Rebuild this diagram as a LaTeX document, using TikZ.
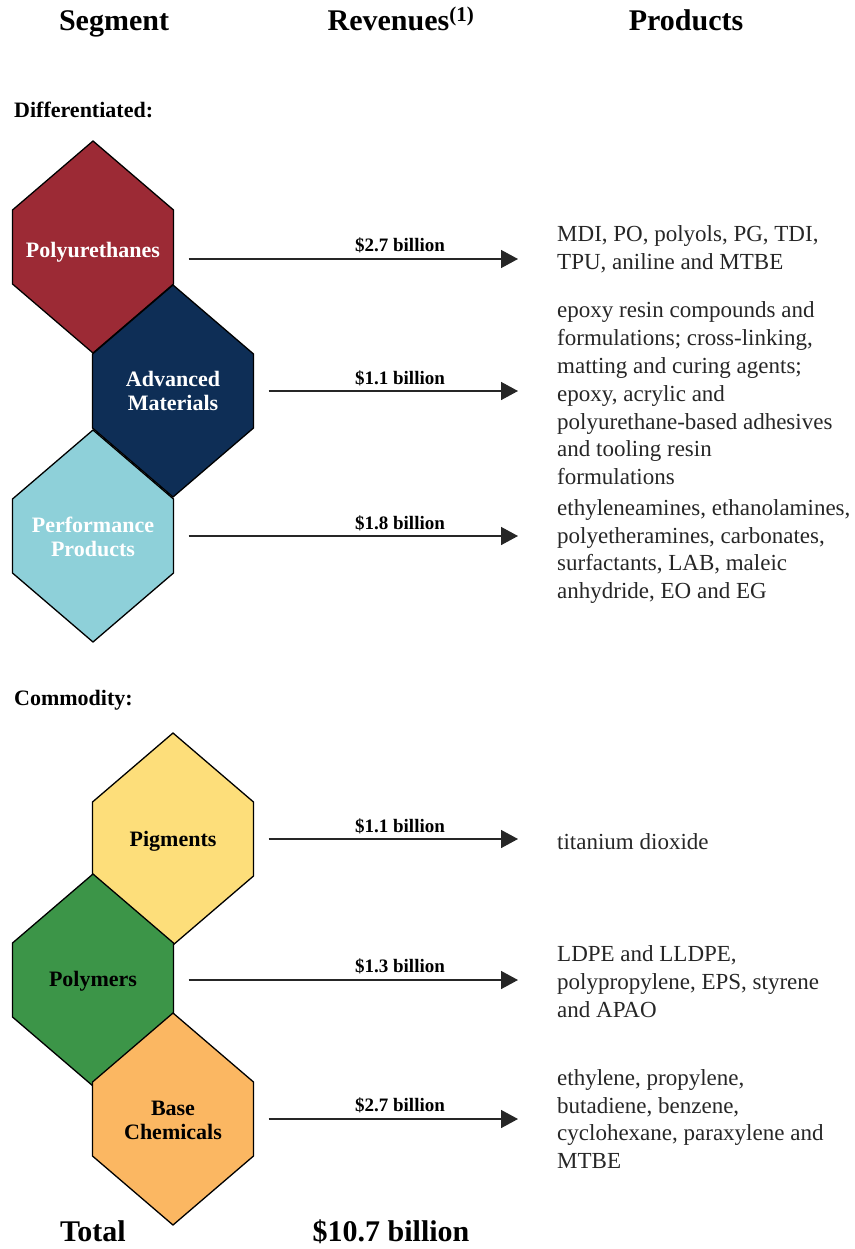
\documentclass[tikz,border=0pt]{standalone}
\usepackage{fontspec}
\setmainfont{Liberation Serif}
\usetikzlibrary{arrows.meta,positioning,calc}

\definecolor{puRed}{HTML}{9C2A35}
\definecolor{amNavy}{HTML}{0E2E56}
\definecolor{ppCyan}{HTML}{8ED0D9}
\definecolor{pgYellow}{HTML}{FDDE7A}
\definecolor{plGreen}{HTML}{3C9548}
\definecolor{bcOrange}{HTML}{FBB762}

% hexagon of a segment: name, centre, fill
\newcommand{\hexseg}[3]{%
  \draw[hexline, fill=#3, shift={#2}] (0,-106) -- (80.5,-37) -- (80.5,37) -- (0,106) -- (-80.5,37) -- (-80.5,-37) -- cycle;
  \coordinate (#1) at #2;
  \coordinate (#1-e) at ($#2+(80.5,0)$);}

\begin{document}
\begin{tikzpicture}[x=1pt, y=-1pt,
    hexline/.style={draw=black, line width=1.3pt},
    head/.style={font=\bfseries\fontsize{30}{34}\selectfont, anchor=base, inner sep=0pt},
    group/.style={font=\bfseries\fontsize{22}{24}\selectfont, anchor=west, inner sep=0pt},
    seg/.style={font=\bfseries\fontsize{22}{24}\selectfont, align=center},
    rev/.style={font=\bfseries\fontsize{19}{22}\selectfont},
    prod/.style={font=\fontsize{23}{27.8}\selectfont, text=black!85, align=left, anchor=west, inner sep=0pt},
    arr/.style={draw=black!85, line width=1.5pt, -{Triangle[length=17pt,width=18pt]}, shorten <=15pt, shorten >=39pt}]
  \useasboundingbox (0,0) rectangle (854,1249);

  % column heads
  \node[head] (h-seg) at (114,31) {Segment};
  \node[head] (h-rev) at (401,31) {Revenues\textsuperscript{(1)}};
  \node[head] (h-prod) at (686,31) {Products};

  % differentiated
  \node[group] (g-diff) at (14,110) {Differentiated:};
  \hexseg{pu}{(93,247)}{puRed}
  \hexseg{am}{(173,391)}{amNavy}
  \hexseg{pp}{(93,536)}{ppCyan}
  \node[seg, white] (pu-lbl) at (93,252) {Polyurethanes};
  \node[seg, white] (am-lbl) at (173,391) {Advanced\\Materials};
  \node[seg, white] (pp-lbl) at (93,537) {Performance\\Products};

  \node[prod] (pu-prod) at (557,249) {MDI, PO, polyols, PG, TDI,\\TPU, aniline and MTBE};
  \node[prod] (am-prod) at (557,393.5) {epoxy resin compounds and\\formulations; cross-linking,\\matting and curing agents;\\epoxy, acrylic and\\polyurethane-based adhesives\\and tooling resin\\formulations};
  \node[prod] (pp-prod) at (557,551.5) {ethyleneamines, ethanolamines,\\polyetheramines, carbonates,\\surfactants, LAB, maleic\\anhydride, EO and EG};

  \draw[arr] ([yshift=-12pt]pu-e) -- ([yshift=-12pt]pu-e -| pu-prod.west);
  \draw[arr] (am-e) -- (am-e -| am-prod.west);
  \draw[arr] (pp-e) -- (pp-e -| pp-prod.west);
  \node[rev] (pu-rev) at (400,245) {\$2.7 billion};
  \node[rev] (am-rev) at (400,378) {\$1.1 billion};
  \node[rev] (pp-rev) at (400,523) {\$1.8 billion};

  % commodity
  \node[group] (g-comm) at (14,700) {Commodity:};
  \hexseg{pg}{(173,839)}{pgYellow}
  \hexseg{pl}{(93,980)}{plGreen}
  \hexseg{bc}{(173,1119)}{bcOrange}
  \node[seg] (pg-lbl) at (173,841) {Pigments};
  \node[seg] (pl-lbl) at (93,981) {Polymers};
  \node[seg] (bc-lbl) at (173,1120) {Base\\Chemicals};

  \node[prod] (pg-prod) at (557,842) {titanium dioxide};
  \node[prod] (pl-prod) at (557,981.5) {LDPE and LLDPE,\\polypropylene, EPS, styrene\\and APAO};
  \node[prod] (bc-prod) at (557,1119) {ethylene, propylene,\\butadiene, benzene,\\cyclohexane, paraxylene and\\MTBE};

  \draw[arr] (pg-e) -- (pg-e -| pg-prod.west);
  \draw[arr] (pl-e) -- (pl-e -| pl-prod.west);
  \draw[arr] (bc-e) -- (bc-e -| bc-prod.west);
  \node[rev] (pg-rev) at (400,826) {\$1.1 billion};
  \node[rev] (pl-rev) at (400,966) {\$1.3 billion};
  \node[rev] (bc-rev) at (400,1105) {\$2.7 billion};

  % total
  \node[head] (t-lbl) at (93,1241) {Total};
  \node[head] (t-rev) at (391,1241) {\$10.7 billion};
\end{tikzpicture}
\end{document}
